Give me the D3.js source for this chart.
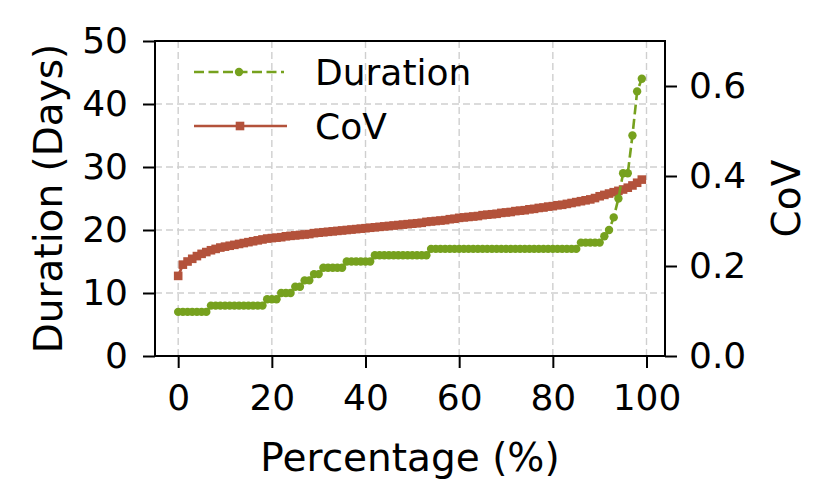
<!DOCTYPE html>
<html>
<head>
<meta charset="utf-8">
<script src="https://cdn.jsdelivr.net/npm/d3@7"></script>
<style>
  body { margin: 0; background: #fff; }
  text { font-family: "DejaVu Sans", sans-serif; }
</style>
</head>
<body>
<div id="plot"></div>
<script>
// Data, x = 0..99 (%)
var duration = [
    7, 7, 7, 7, 7, 7, 7,
    8, 8, 8, 8, 8, 8, 8, 8, 8, 8, 8, 8,
    9, 9, 9,
    10, 10, 10,
    11, 11,
    12, 12,
    13, 13,
    14, 14, 14, 14, 14,
    15, 15, 15, 15, 15, 15,
    16, 16, 16, 16, 16, 16, 16, 16, 16, 16, 16, 16,
    17, 17, 17, 17, 17, 17, 17, 17, 17, 17, 17, 17, 17, 17, 17, 17,
    17, 17, 17, 17, 17, 17, 17, 17, 17, 17, 17, 17, 17, 17, 17, 17,
    18, 18, 18, 18, 18,
    19, 20, 22, 25, 29, 29, 35, 42, 44
];

var cov = [
    0.178, 0.203, 0.210, 0.216, 0.222, 0.227, 0.231, 0.235, 0.238, 0.241,
    0.243, 0.245, 0.247, 0.249, 0.251, 0.253, 0.255, 0.257, 0.259, 0.261,
    0.262, 0.263, 0.264, 0.266, 0.267, 0.268, 0.269, 0.270, 0.271, 0.273,
    0.274, 0.275, 0.276, 0.277, 0.278, 0.279, 0.280, 0.281, 0.282, 0.283,
    0.284, 0.285, 0.286, 0.287, 0.288, 0.289, 0.290, 0.291, 0.292, 0.293,
    0.294, 0.295, 0.296, 0.298, 0.299, 0.300, 0.301, 0.302, 0.304, 0.305,
    0.307, 0.308, 0.309, 0.310, 0.311, 0.313, 0.314, 0.315, 0.316, 0.318,
    0.319, 0.320, 0.322, 0.323, 0.324, 0.326, 0.327, 0.329, 0.330, 0.332,
    0.333, 0.335, 0.336, 0.338, 0.340, 0.342, 0.344, 0.346, 0.348, 0.351,
    0.355, 0.358, 0.361, 0.364, 0.367, 0.370, 0.374, 0.379, 0.385, 0.392
];

var percent = d3.range(duration.length);

var xTicks = [0, 20, 40, 60, 80, 100];
var leftTicks = [0, 10, 20, 30, 40, 50];
var rightTicks = [0.0, 0.2, 0.4, 0.6];

var seriesNames = ["Duration", "CoV"];

// Style
const green = "#76a11e";
const brown = "#b3523b";
const tickFont = 36;
const labelFont = 39;
const legendFont = 36;

var width = 832, height = 500;
var plotLeft = 155, plotRight = 665, plotTop = 41, plotBottom = 356;

var svg = d3.select("#plot")
    .append("svg")
    .attr("width", width)
    .attr("height", height);

var x = d3.scaleLinear().domain([-4.95, 103.95]).range([plotLeft, plotRight]);
var yL = d3.scaleLinear().domain([0, 50]).range([plotBottom, plotTop]);
var yR = d3.scaleLinear().domain([0, 0.7]).range([plotBottom, plotTop]);

// Grid
var grid = svg.append("g")
    .attr("stroke", "#cfcfcf")
    .attr("stroke-width", 1.4)
    .attr("stroke-dasharray", "7,4");

grid.selectAll(".gx")
    .data(xTicks)
    .enter()
    .append("line")
    .attr("x1", d => x(d))
    .attr("x2", d => x(d))
    .attr("y1", plotTop)
    .attr("y2", plotBottom);

grid.selectAll(".gy")
    .data(leftTicks)
    .enter()
    .append("line")
    .attr("x1", plotLeft)
    .attr("x2", plotRight)
    .attr("y1", d => yL(d))
    .attr("y2", d => yL(d));

// CoV line
svg.append("path")
    .datum(percent)
    .attr("fill", "none")
    .attr("stroke", brown)
    .attr("stroke-width", 2.7)
    .attr("d", d3.line().x(i => x(i)).y(i => yR(cov[i])));

svg.append("g")
    .selectAll("rect")
    .data(percent)
    .enter()
    .append("rect")
    .attr("x", i => x(i) - 4.3)
    .attr("y", i => yR(cov[i]) - 4.3)
    .attr("width", 8.6)
    .attr("height", 8.6)
    .attr("fill", brown);

// Duration line
svg.append("path")
    .datum(percent)
    .attr("fill", "none")
    .attr("stroke", green)
    .attr("stroke-width", 2.6)
    .attr("stroke-dasharray", "10,4.5")
    .attr("d", d3.line().x(i => x(i)).y(i => yL(duration[i])));

svg.append("g")
    .selectAll("circle")
    .data(percent)
    .enter()
    .append("circle")
    .attr("cx", i => x(i))
    .attr("cy", i => yL(duration[i]))
    .attr("r", 4.2)
    .attr("fill", green);

// Axes
function styleAxis(g) {
    g.selectAll("path").remove();
    g.selectAll("line").attr("stroke", "#000").attr("stroke-width", 2);
    g.selectAll("text")
        .attr("fill", "#000")
        .style("font-size", tickFont + "px")
        .style("font-family", "'DejaVu Sans', sans-serif");
}

svg.append("g")
    .attr("transform", "translate(0," + plotBottom + ")")
    .call(d3.axisBottom(x).tickValues(xTicks).tickSize(12).tickPadding(16))
    .call(styleAxis);

svg.append("g")
    .attr("transform", "translate(" + plotLeft + ",0)")
    .call(d3.axisLeft(yL).tickValues(leftTicks).tickSize(12).tickPadding(15))
    .call(styleAxis);

svg.append("g")
    .attr("transform", "translate(" + plotRight + ",0)")
    .call(d3.axisRight(yR).tickValues(rightTicks).tickSize(12).tickPadding(12)
        .tickFormat(d3.format(".1f")))
    .call(styleAxis);

// Frame
svg.append("rect")
    .attr("x", plotLeft)
    .attr("y", plotTop)
    .attr("width", plotRight - plotLeft)
    .attr("height", plotBottom - plotTop)
    .attr("fill", "none")
    .attr("stroke", "#000")
    .attr("stroke-width", 2);

// Axis labels
svg.append("text")
    .attr("x", (plotLeft + plotRight) / 2)
    .attr("y", 471)
    .attr("text-anchor", "middle")
    .style("font-size", labelFont + "px")
    .text("Percentage (%)");

svg.append("text")
    .attr("transform", "translate(62," + (plotTop + plotBottom) / 2 + ") rotate(-90)")
    .attr("text-anchor", "middle")
    .style("font-size", labelFont + "px")
    .text("Duration (Days)");

svg.append("text")
    .attr("transform", "translate(800," + (plotTop + plotBottom) / 2 + ") rotate(-90)")
    .attr("text-anchor", "middle")
    .style("font-size", labelFont + "px")
    .text("CoV");

// Legend
var legend = svg.append("g");

legend.append("line")
    .attr("x1", 194).attr("x2", 284)
    .attr("y1", 72).attr("y2", 72)
    .attr("stroke", green)
    .attr("stroke-width", 2.6)
    .attr("stroke-dasharray", "10,4.5");
legend.append("circle")
    .attr("cx", 239).attr("cy", 72).attr("r", 4.2)
    .attr("fill", green);
legend.append("text")
    .attr("x", 315).attr("y", 72)
    .attr("dy", "0.36em")
    .style("font-size", legendFont + "px")
    .text(seriesNames[0]);

legend.append("line")
    .attr("x1", 194).attr("x2", 287)
    .attr("y1", 126).attr("y2", 126)
    .attr("stroke", brown)
    .attr("stroke-width", 2.7);
legend.append("rect")
    .attr("x", 235.7).attr("y", 121.7)
    .attr("width", 8.6).attr("height", 8.6)
    .attr("fill", brown);
legend.append("text")
    .attr("x", 315).attr("y", 126)
    .attr("dy", "0.36em")
    .style("font-size", legendFont + "px")
    .text(seriesNames[1]);
</script>
</body>
</html>
